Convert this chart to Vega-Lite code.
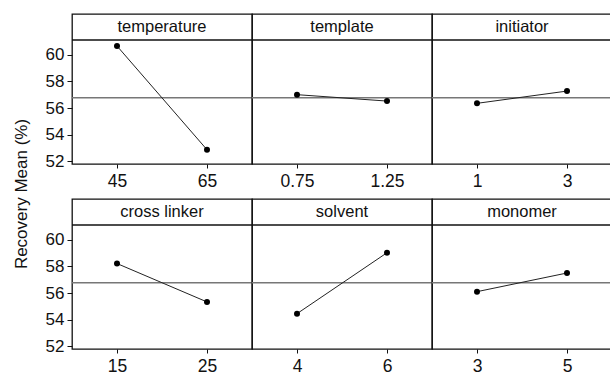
{
  "$schema": "https://vega.github.io/schema/vega-lite/v6.json",
  "padding": {"left": 12, "top": 13, "right": 0, "bottom": 0},
  "background": "white",
  "data": {"values": [
    {"factor": "temperature", "r": 1, "c": 1, "idx": 0, "level": "45", "mean": 60.65},
    {"factor": "temperature", "r": 1, "c": 1, "idx": 1, "level": "65", "mean": 52.87},
    {"factor": "template", "r": 1, "c": 2, "idx": 0, "level": "0.75", "mean": 57.0},
    {"factor": "template", "r": 1, "c": 2, "idx": 1, "level": "1.25", "mean": 56.52},
    {"factor": "initiator", "r": 1, "c": 3, "idx": 0, "level": "1", "mean": 56.35},
    {"factor": "initiator", "r": 1, "c": 3, "idx": 1, "level": "3", "mean": 57.27},
    {"factor": "cross linker", "r": 2, "c": 1, "idx": 0, "level": "15", "mean": 58.21},
    {"factor": "cross linker", "r": 2, "c": 1, "idx": 1, "level": "25", "mean": 55.33},
    {"factor": "solvent", "r": 2, "c": 2, "idx": 0, "level": "4", "mean": 54.45},
    {"factor": "solvent", "r": 2, "c": 2, "idx": 1, "level": "6", "mean": 59.02},
    {"factor": "monomer", "r": 2, "c": 3, "idx": 0, "level": "3", "mean": 56.1},
    {"factor": "monomer", "r": 2, "c": 3, "idx": 1, "level": "5", "mean": 57.5}
  ]},
  "facet": {
    "row": {"field": "r", "type": "ordinal", "header": {"title": "Recovery Mean (%)", "labels": false, "titleFontSize": 17, "titleFont": "Liberation Sans", "titleFontWeight": "normal", "titleColor": "#111", "titlePadding": 4}},
    "column": {"field": "c", "type": "ordinal", "header": null}
  },
  "spacing": {"row": 35, "column": 0},
  "bounds": "flush",
  "resolve": {"scale": {"x": "independent"}},
  "spec": {
    "width": 180,
    "height": 150,
    "layer": [
      {
        "transform": [{"filter": "datum.idx == 0"}],
        "mark": {"type": "rule", "color": "#777", "strokeWidth": 1.5},
        "encoding": {"y": {"datum": 56.76, "type": "quantitative", "scale": {"domain": [51.8, 63.05], "nice": false, "zero": false}, "axis": {"title": null, "values": [52, 54, 56, 58, 60]}}}
      },
      {
        "transform": [{"filter": "datum.idx == 0"}],
        "mark": {"type": "rule", "color": "#111", "strokeWidth": 1.3},
        "encoding": {"y": {"datum": 61.1, "type": "quantitative", "axis": {"title": null, "values": [52, 54, 56, 58, 60]}}}
      },
      {
        "transform": [{"filter": "datum.idx == 0"}],
        "mark": {"type": "text", "font": "Liberation Sans", "fontSize": 16.5, "color": "#111", "baseline": "middle", "align": "center"},
        "encoding": {
          "y": {"datum": 62.1, "type": "quantitative", "axis": {"title": null, "values": [52, 54, 56, 58, 60]}},
          "text": {"field": "factor", "type": "nominal"}
        }
      },
      {
        "mark": {"type": "line", "color": "#222", "strokeWidth": 1},
        "encoding": {
          "x": {"field": "level", "type": "ordinal", "sort": null, "scale": {"type": "point", "padding": 0.5}, "axis": {"title": null}},
          "y": {"field": "mean", "type": "quantitative", "axis": {"title": null, "values": [52, 54, 56, 58, 60]}}
        }
      },
      {
        "mark": {"type": "point", "filled": true, "color": "#000", "size": 36, "opacity": 1},
        "encoding": {
          "x": {"field": "level", "type": "ordinal", "sort": null, "axis": {"title": null}},
          "y": {"field": "mean", "type": "quantitative", "axis": {"title": null, "values": [52, 54, 56, 58, 60]}}
        }
      }
    ]
  },
  "config": {
    "view": {"stroke": "#111", "strokeWidth": 1.3},
    "font": "Liberation Sans",
    "axis": {"domain": false, "grid": false, "tickColor": "#111", "labelFont": "Liberation Sans", "labelColor": "#111", "labelOverlap": false},
    "axisX": {"labelFontSize": 17.5, "tickSize": 4, "labelPadding": 4, "labelAngle": 0},
    "axisY": {"labelFontSize": 17, "tickSize": 5, "labelPadding": 3}
  }
}
